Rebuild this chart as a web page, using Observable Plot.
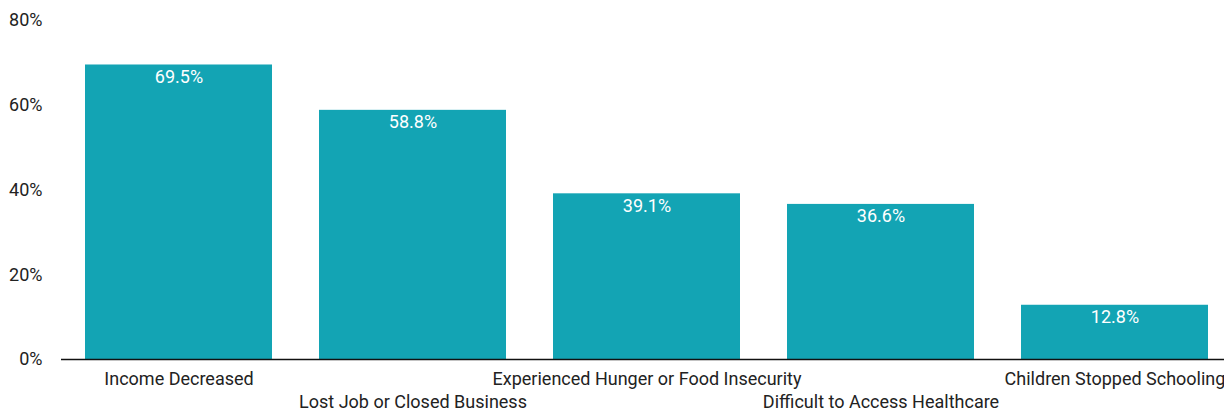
<!DOCTYPE html>
<html>
<head>
<meta charset="utf-8">
<script src="https://cdn.jsdelivr.net/npm/d3@7"></script>
<script src="https://cdn.jsdelivr.net/npm/@observablehq/plot@0.6"></script>
<style>
  html, body { margin: 0; padding: 0; background: white; overflow: hidden; }
  #chart svg { overflow: visible; }
</style>
</head>
<body>
<div id="chart"></div>
<script>
const categories = [
  "Income Decreased",
  "Lost Job or Closed Business",
  "Experienced Hunger or Food Insecurity",
  "Difficult to Access Healthcare",
  "Children Stopped Schooling"
];
const values = [69.5, 58.8, 39.1, 36.6, 12.8];
const yTicks = [0, 20, 40, 60, 80];
const gridLines = [10, 20, 30, 40, 50, 60, 70, 80];

const data = categories.map((c, i) => ({category: c, value: values[i]}));
const evenCats = categories.filter((c, i) => i % 2 === 0);
const oddCats = categories.filter((c, i) => i % 2 === 1);

const chart = Plot.plot({
  width: 1224,
  height: 412,
  marginLeft: 61,
  marginRight: 0,
  marginTop: 20,
  marginBottom: 53,
  style: {fontFamily: "Roboto", fontSize: "18px", color: "#222", background: "white"},
  x: {domain: categories, range: [62, 1232], paddingInner: 0.2, paddingOuter: 0.1},
  y: {domain: [0, 80]},
  marks: [
    Plot.ruleY(gridLines, {stroke: "#d0d0d0", strokeWidth: 1.2, x1: 61, x2: 1224}),
    Plot.barY(data, {x: "category", y: "value", fill: "#13a4b4"}),
    Plot.ruleY([0], {stroke: "#111", strokeWidth: 1.5}),
    Plot.text(data, {x: "category", y: "value", text: d => d.value.toFixed(1) + "%", fill: "white", fontSize: 18, lineAnchor: "top", dy: 5}),
    Plot.axisY(yTicks, {tickSize: 0, tickPadding: 19, tickFormat: d => d + "%", fontSize: 18, fill: "#222", label: null}),
    Plot.axisX(evenCats, {tickSize: 0, tickPadding: 13, fontSize: 18, fill: "#222", label: null}),
    Plot.axisX(oddCats, {tickSize: 0, tickPadding: 36, fontSize: 18, fill: "#222", label: null})
  ]
});
document.getElementById("chart").appendChild(chart);
</script>
</body>
</html>
